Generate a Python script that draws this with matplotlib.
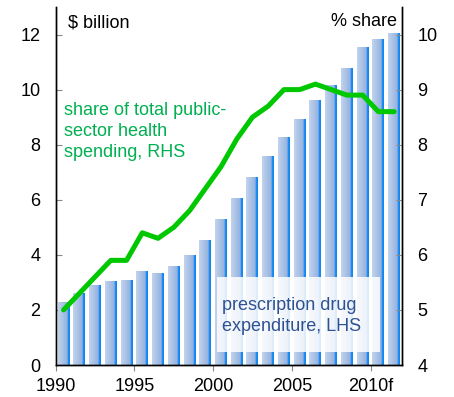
import numpy as np
import matplotlib
matplotlib.use("Agg")
import matplotlib.pyplot as plt
from matplotlib.colors import LinearSegmentedColormap
from matplotlib.patches import Rectangle

plt.rcParams['font.family'] = ['Liberation Sans', 'DejaVu Sans']

# prescription drug expenditure ($ billion) and share of public-sector health spending (%)
years = np.arange(1990, 2012)
drug_spend = [2.3, 2.6, 2.9, 3.05, 3.1, 3.4, 3.35, 3.6, 4.0, 4.55, 5.3,
              6.07, 6.84, 7.6, 8.29, 8.95, 9.64, 10.17, 10.8, 11.56, 11.82, 12.06]
share = [5.0, 5.3, 5.6, 5.9, 5.9, 6.4, 6.3, 6.5, 6.8, 7.2, 7.6,
         8.1, 8.5, 8.7, 9.0, 9.0, 9.1, 9.0, 8.9, 8.9, 8.6, 8.6]
xtick_years = [1990, 1995, 2000, 2005, 2010]
xtick_labels = ['1990', '1995', '2000', '2005', '2010f']

FS = 13

fig = plt.figure(figsize=(4.54, 3.97), dpi=100)
ax = fig.add_axes([0.1227, 0.0806, 0.7628, 0.9018])
ax2 = ax.twinx()

# bars with a light-to-bright blue shading across each bar
bar_cmap = LinearSegmentedColormap.from_list(
    'barshade', [(0.0, '#c3d3ec'), (0.80, '#92b2e0'), (0.83, '#2a8ef0'), (1.0, '#0a84f0')])
grad = np.linspace(0, 1, 64).reshape(1, -1)
bars = ax.bar(years + 0.5, drug_spend, width=0.76, color='none', edgecolor='none')
for b in bars:
    x0, w, h = b.get_x(), b.get_width(), b.get_height()
    im = ax.imshow(grad, extent=[x0, x0 + w, 0, h], aspect='auto', cmap=bar_cmap,
                   origin='lower', zorder=2)
    im.set_clip_path(b)

ax.set_xlim(1990, 2012)
ax.set_ylim(0, 13)
ax.set_yticks(range(0, 13, 2))
ax.set_xticks(xtick_years)
ax.set_xticklabels(xtick_labels)

ax2.plot(years + 0.5, share, color='#00c800', lw=3.6, solid_capstyle='round', zorder=5)
ax2.set_ylim(4, 10.5)
ax2.set_yticks(range(4, 11))

for a in (ax, ax2):
    a.spines['top'].set_visible(False)
    for s in a.spines.values():
        s.set_linewidth(1.0)
ax.tick_params(axis='y', direction='in', length=4, color='#888888', pad=11, labelsize=FS)
ax.tick_params(axis='x', direction='out', length=4, color='#888888', pad=5.5, labelsize=FS)
ax2.tick_params(axis='y', direction='in', length=4, color='#888888', pad=11, labelsize=FS)

# labels
ax.text(0.035, 0.978, '$ billion', transform=ax.transAxes, fontsize=FS, va='top', ha='left')
ax2.text(0.985, 0.983, '% share', transform=ax2.transAxes, fontsize=FS, va='top', ha='right')
ax2.text(0.024, 0.735, 'share of total public-\nsector health\nspending, RHS', transform=ax2.transAxes,
         fontsize=FS, color='#00b050', va='top', ha='left', linespacing=1.32)

ax2.add_patch(Rectangle((0.466, 0.036), 0.47, 0.21, transform=ax2.transAxes,
                        facecolor='white', alpha=0.85, edgecolor='none', zorder=3))
ax2.text(0.48, 0.137, 'prescription drug\nexpenditure, LHS', transform=ax2.transAxes,
         fontsize=FS, color='#2e5192', va='center', ha='left', linespacing=1.32, zorder=4)

fig.savefig('out.png', dpi=100)
